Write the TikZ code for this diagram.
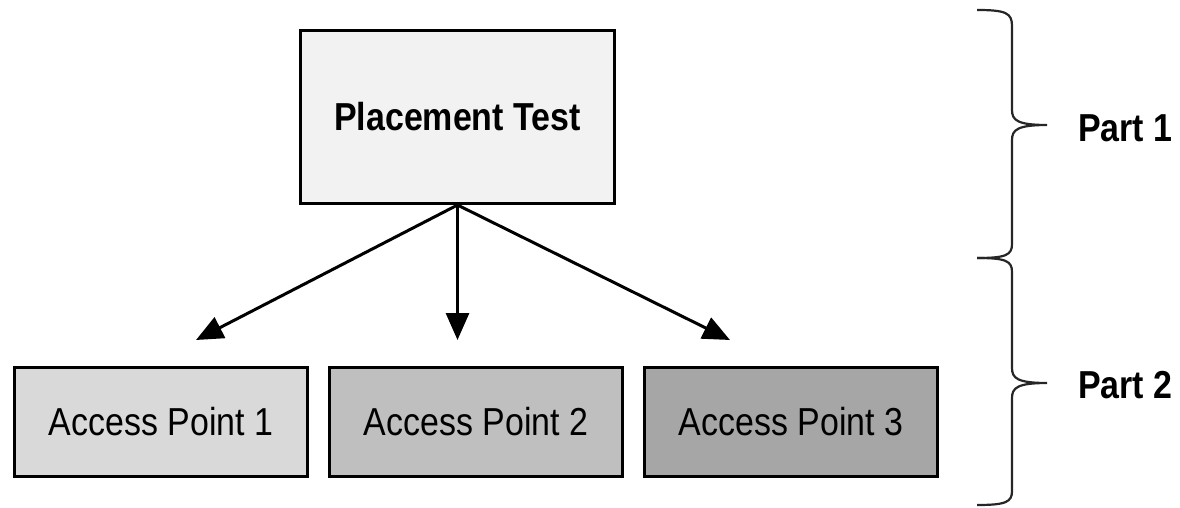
\documentclass[tikz,border=0pt]{standalone}
\usepackage{fontspec}
\setmainfont{Liberation Sans}[FakeStretch=0.87]
\usepackage{tikz}
\usetikzlibrary{positioning,arrows.meta}
\definecolor{testgray}{RGB}{242,242,242}
\definecolor{apgrayA}{RGB}{217,217,217}
\definecolor{apgrayB}{RGB}{191,191,191}
\definecolor{apgrayC}{RGB}{166,166,166}

\begin{document}
\begin{tikzpicture}[x=1pt,y=-1pt,
	every node/.style={font=\fontsize{39}{44}\selectfont},
	boxnode/.style={draw,line width=3pt,rectangle,inner sep=0pt},
	testnode/.style={boxnode,fill=testgray,minimum width=314pt,minimum height=173pt,font=\fontsize{39}{44}\selectfont\bfseries},
	apnode/.style={boxnode,minimum width=293pt,minimum height=109pt},
	partnode/.style={anchor=west,inner sep=0pt,font=\fontsize{39}{44}\selectfont\bfseries},
	flow/.style={line width=3pt,-{Triangle[length=27pt,width=23pt]}},
	partbrace/.style={line width=2.2pt,draw=black!85},
	]
	\useasboundingbox (0,0) rectangle (1180,508);
	
	% the test
	\node[testnode] (test) at (457.5,117) {Placement Test};
	
	% the access points
	\node[apnode,fill=apgrayA] (ap1) at (161,422) {Access Point 1};
	\node[apnode,fill=apgrayB,right=19pt of ap1] (ap2) {Access Point 2};
	\node[apnode,fill=apgrayC,right=19pt of ap2] (ap3) {Access Point 3};
	
	% arrow ends
	\coordinate (tip1) at (196,340);
	\coordinate (tip2) at (test.south |- tip1);
	\coordinate (tip3) at (730,340);
	
	\draw[flow] (test.south) -- (tip1);
	\draw[flow] (test.south) -- (tip2);
	\draw[flow] (test.south) -- (tip3);
	
	% the braces
	\coordinate (b1) at (977,10);
	\coordinate (b2) at (977,258);
	\coordinate (b3) at (977,505);
	\coordinate (t1) at (1047,125);
	\coordinate (t2) at (1047,383);
	\draw[partbrace] (b1) .. controls (1006,10) and (1012,13) .. (1012,26) -- (1012,110)
		.. controls (1012,120) and (1017,125) .. (t1)
		.. controls (1017,125) and (1012,130) .. (1012,140) -- (1012,244)
		.. controls (1012,255) and (1006,258) .. (b2);
	\draw[partbrace] (b2) .. controls (1006,258) and (1012,261) .. (1012,272) -- (1012,368)
		.. controls (1012,378) and (1017,383) .. (t2)
		.. controls (1017,383) and (1012,388) .. (1012,398) -- (1012,491)
		.. controls (1012,502) and (1006,505) .. (b3);
	
	\node[partnode] (part1) at (1078,128) {Part 1};
	\node[partnode] (part2) at (1078,385) {Part 2};
	
\end{tikzpicture}
\end{document}
